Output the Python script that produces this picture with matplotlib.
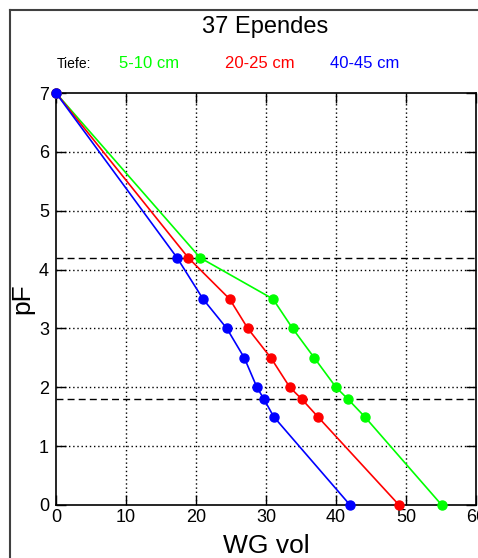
import matplotlib
matplotlib.use("Agg")
import matplotlib.pyplot as plt
from matplotlib.lines import Line2D

plt.rcParams["font.family"] = ["Liberation Sans", "DejaVu Sans"]

title = "37 Ependes"
depth_labels = ["5-10 cm", "20-25 cm", "40-45 cm"]
colors = ["#00ff00", "#ff0000", "#0000ff"]

pf = [7, 4.2, 3.5, 3.0, 2.5, 2.0, 1.8, 1.5, 0]
wg_5_10 = [0, 20.6, 31.0, 33.8, 36.9, 40.0, 41.7, 44.1, 55.1]
wg_20_25 = [0, 18.9, 24.8, 27.4, 30.7, 33.4, 35.1, 37.4, 49.0]
wg_40_45 = [0, 17.3, 21.0, 24.4, 26.9, 28.7, 29.7, 31.1, 42.0]
series = [wg_5_10, wg_20_25, wg_40_45]

x_ticks = [0, 10, 20, 30, 40, 50, 60]
y_ticks = [0, 1, 2, 3, 4, 5, 6, 7]
ref_lines = [4.2, 1.8]


def main():
    fig = plt.figure(figsize=(4.78, 5.58), dpi=100)
    ax = fig.add_axes([0.1172, 0.0950, 0.8786, 0.7383])

    # dotted grid
    for x in x_ticks[1:-1]:
        ax.axvline(x, color="black", linestyle=(0, (1, 2)), linewidth=1.0, zorder=1)
    for y in y_ticks[1:-1]:
        ax.axhline(y, color="black", linestyle=(0, (1, 2)), linewidth=1.0, zorder=1)
    for y in ref_lines:
        ax.axhline(y, color="black", linestyle=(0, (5, 3)), linewidth=1.0, zorder=1)

    for wg, c in zip(series, colors):
        ax.plot(wg, pf, color=c, linewidth=1.2, marker="o", markersize=6.5,
                clip_on=False, zorder=3)

    ax.set_xlim(0, 60)
    ax.set_ylim(0, 7)
    ax.set_xticks(x_ticks)
    ax.set_yticks(y_ticks)
    ax.tick_params(direction="in", length=7, width=1, labelsize=13,
                   top=True, right=True, pad=3)
    ax.tick_params(axis="y", pad=5)
    for s in ax.spines.values():
        s.set_linewidth(1.2)
    ax.set_xlabel("WG vol", fontsize=19, labelpad=6)
    ax.set_ylabel("pF", fontsize=19, labelpad=3)

    fig.text(0.555, 0.952, title, ha="center", va="center", fontsize=17)
    fig.text(0.119, 0.885, "Tiefe:", ha="left", va="center", fontsize=10)
    xs = [0.249, 0.471, 0.690]
    for x, lab, c in zip(xs, depth_labels, colors):
        fig.text(x, 0.887, lab, ha="left", va="center", fontsize=12, color=c)

    # outer frame
    fc = "#404040"
    fig.add_artist(Line2D([0.0209, 0.0209], [0, 0.982], color=fc, linewidth=1.5,
                          transform=fig.transFigure))
    fig.add_artist(Line2D([0.0209, 1.0], [0.982, 0.982], color=fc, linewidth=1.5,
                          transform=fig.transFigure))

    fig.savefig("out.png", dpi=100)


if __name__ == "__main__":
    main()
